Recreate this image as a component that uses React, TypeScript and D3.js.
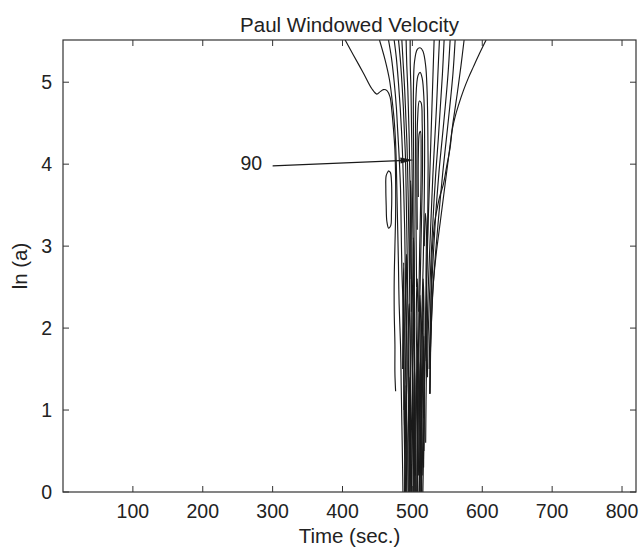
import React from "react";
import * as d3 from "d3";

// Axis tick values
const xTicks = [100, 200, 300, 400, 500, 600, 700, 800];
const yTicks = [0, 1, 2, 3, 4, 5];
const xDomain = [0, 820];
const yDomain = [0, 5.515];

// Contour lines: [time (sec.), ln(a)]
const leftLines: [number, number][][] = [
  [[403.8,5.515],[415.7,5.33],[430,5.11],[442,4.92],[449,4.855],[454,4.885],[458.6,4.91],[464,4.895],[468,4.82],[470.5,4.66],[473,4.42],[475,4.17],[476,3.8],[476,3.4],[475,3.0],[474,2.6],[474,2.2],[475,1.8],[475,1.45],[476,1.23]],
  [[452.9,5.515],[461,5.27],[467.2,5.03],[471,4.78],[473.9,4.54],[475.8,4.29],[477,4.0],[478,3.6],[479,3.2],[480,2.8],[481,2.3],[483,1.8],[484,1.3],[485,0.8],[486,0.3],[486.5,0]],
  [[465.8,5.515],[470,5.3],[474,5.0],[477,4.7],[479,4.4],[481,4.1],[483,3.7],[484,3.2],[485,2.7],[487,2.2],[488,1.6],[488,1.0],[489,0.4],[489,0]],
  [[473.9,5.515],[477,5.3],[480,5.0],[482.5,4.7],[484.5,4.4],[486,4.1],[487.5,3.7],[489,3.2],[490,2.6],[491,2.0],[491,1.4],[492,0.8],[492,0]],
  [[480.1,5.515],[482.5,5.3],[485,5.0],[487,4.7],[488.5,4.4],[490,4.1],[491,3.7],[492,3.2],[493,2.6],[494,2.0],[494,1.3],[495,0.6],[495,0]],
  [[484.9,5.515],[487,5.2],[489,4.9],[490.5,4.6],[492,4.3],[493,4.0],[494,3.6],[495,3.1],[496,2.5],[497,1.8],[497,1.0],[498,0]],
  [[491,5.515],[492,5.2],[493.5,4.9],[494.5,4.6],[495.5,4.3],[496,4.0],[497,3.6],[498,3.0],[499,2.4],[500,1.7],[500,1.0],[501,0]],
  [[496.8,5.515],[497,5.2],[498,4.9],[498.5,4.6],[499,4.3],[499.5,4.0],[500,3.6],[501,3.0],[502,2.3],[503,1.6],[503,0.8],[504,0]],
];

const loopLine: [number, number][] = [
  [465.8,3.92],[462.5,3.86],[462,3.7],[462.5,3.5],[463.5,3.3],[466,3.22],[469,3.25],[470,3.4],[470.5,3.6],[470,3.8],[468.5,3.9],[465.8,3.92],
];

const archLines: [number, number][][] = [
  [[504,0],[504,1.0],[503,2.0],[502.5,3.0],[502,3.8],[501.5,4.4],[501.5,4.9],[503,5.25],[507,5.4],[511,5.42],[515,5.38],[519,5.2],[521,4.9],[522,4.5],[522.5,4.0],[522,3.4],[521,2.8],[519,2.0],[517,1.2],[516,0.5],[515,0]],
  [[506,2.5],[505,3.5],[504.5,4.3],[505,4.8],[508,5.08],[511,5.12],[514,5.05],[516.5,4.8],[517.5,4.3],[517,3.6],[515.5,2.8],[513,2.0],[511,1.0],[510,0]],
  [[507,3.2],[506.5,4.0],[507.5,4.55],[510,4.77],[512.5,4.75],[514,4.5],[514.5,4.0],[513,3.3],[511,2.5],[508,1.5],[507,0.5],[507,0]],
  [[508.5,3.6],[508.5,4.1],[510,4.38],[511.5,4.4],[512.5,4.1],[512,3.6],[510.5,3.0],[509,2.2]],
];

const rightLines: [number, number][][] = [
  [[531.1,5.515],[529.5,5.1],[528,4.7],[526.5,4.3],[525,3.9],[523,3.4],[521,2.8],[519,2.2],[517.5,1.5],[516.5,0.8],[516,0.3]],
  [[538.7,5.515],[536.5,5.1],[534.5,4.7],[532,4.3],[529.5,3.9],[527,3.4],[524.5,2.9],[522,2.3],[520.5,1.7],[519.5,1.1],[519,0.6]],
  [[545.4,5.515],[543,5.1],[540,4.7],[537,4.3],[533.5,3.9],[530,3.4],[527,2.9],[524.5,2.4],[522.5,1.9],[521.5,1.4]],
  [[554,5.515],[551,5.1],[547,4.7],[542.5,4.3],[538,3.9],[533.5,3.4],[530,2.9],[527,2.4],[525,1.9],[524,1.5]],
  [[561.2,5.515],[558,5.1],[553.5,4.7],[548.5,4.3],[543.5,3.9],[538,3.4],[533,2.9],[529,2.4],[526.5,1.9],[525.5,1.4],[525,1.2]],
  [[574,5.515],[569.5,5.2],[564,4.85],[558,4.5],[552,4.1],[546,3.7],[540,3.3],[534,2.9],[529.5,2.5],[527,2.0],[525.5,1.6],[525,1.2]],
  [[605.5,5.515],[596,5.35],[587.4,5.19],[580,5.05],[573.1,4.9],[566,4.72],[561.2,4.58],[557,4.42],[554,4.2],[549,3.97],[544.5,3.76],[539,3.6],[535,3.44],[532,3.3],[530.2,3.15],[528.5,2.95],[527.5,2.7],[526.5,2.3],[526,1.9],[525.5,1.5],[525,1.2]],
];

// Dense inner structure near the bottom of the funnel
const bundleLines: [number, number][][] = [
  [[489,0],[489.5,0.5],[488.5,1.0],[490,1.5],[489,2.0],[490.5,2.5],[491.5,2.9],[492.5,2.5],[491.5,2.0],[492.5,1.5],[491,1.0],[492,0.5],[491,0]],
  [[494,0],[493.5,0.6],[495,1.2],[494,1.8],[495.5,2.3],[496.5,2.0],[497,1.4],[496,0.8],[497,0.3],[496.5,0]],
  [[499,0],[498.5,0.7],[500,1.3],[499,1.9],[500.5,2.6],[501.5,3.1],[502.5,2.6],[501.5,2.0],[502.5,1.4],[501.5,0.7],[502,0]],
  [[505.5,0],[505,0.8],[506.5,1.5],[505.5,2.1],[507,2.6],[508,2.2],[507.5,1.6],[508.5,1.0],[507.5,0.4],[508,0]],
  [[509,0.3],[510,1.0],[509.5,1.7],[511,2.4],[512,2.0],[511.5,1.3],[512.5,0.6],[512,0]],
  [[513,0],[513.5,0.6],[513,1.3],[514.5,2.0],[515.5,2.6],[516.5,2.2],[516,1.6],[517,1.0],[516.5,0.5]],
  [[496,2.6],[496.5,3.2],[497.5,3.8],[498.5,3.4],[498,2.8],[498.5,2.2]],
  [[517,3.0],[518.5,3.4],[520,3.2],[519.5,2.6],[520.5,2.1],[519.5,1.6],[518.5,1.9]],
  [[486,1.5],[486.5,2.2],[487.5,2.8],[488,2.2],[487.5,1.6],[488,1.0]],
  [[490,0],[490.5,0.4],[490,0.9],[491,1.3],[490.5,0.7],[491,0.2]],
  [[495.5,0],[496,0.5],[495.5,1.0],[496.5,1.4],[497.5,1.0],[497,0.5],[498,0]],
  [[502.5,0],[503,0.5],[502,1.0],[503,1.5],[504,1.1],[503.5,0.6],[504.5,0.2]],
  [[506.5,0],[507,0.6],[506,1.2],[507.5,1.8],[508.5,1.4],[508,0.8],[509,0.2]],
  [[511,0],[511.5,0.5],[510.5,1.1],[511.5,1.6],[513,1.2],[512.5,0.6],[513.5,0]],
  [[514,0.2],[515,0.8],[514.5,1.4],[515.5,1.9],[516.5,1.5],[516,0.9]],
];

// Annotation
const annotationText = "90";
const arrowFrom: [number, number] = [300, 3.98];
const arrowTo: [number, number] = [501.5, 4.05];
const labelPos: [number, number] = [285, 4.01];

export default function App() {
  const W = 641, H = 548;
  const m = { left: 63, right: 5, top: 40, bottom: 56 };
  const x = d3.scaleLinear().domain(xDomain).range([m.left, W - m.right]);
  const y = d3.scaleLinear().domain(yDomain).range([H - m.bottom, m.top]);
  const line = d3.line<[number, number]>().x(d => x(d[0])).y(d => y(d[1])).curve(d3.curveCatmullRom.alpha(0.5));
  const all = [...leftLines, loopLine, ...archLines, ...rightLines, ...bundleLines];
  const x0 = x(xDomain[0]), x1 = x(xDomain[1]), y0 = y(yDomain[0]), y1 = y(yDomain[1]);
  const font = "'Liberation Sans', Arial, Helvetica, sans-serif";
  const axisColor = "#333";
  const tl = 6;

  const ax = x(arrowTo[0]), ay = y(arrowTo[1]);
  const bx = x(arrowFrom[0]), by = y(arrowFrom[1]);
  const ang = Math.atan2(ay - by, ax - bx);
  const hl = 13, hw = 3;
  const p1 = [ax - hl * Math.cos(ang) + hw * Math.sin(ang), ay - hl * Math.sin(ang) - hw * Math.cos(ang)];
  const p2 = [ax - hl * Math.cos(ang) - hw * Math.sin(ang), ay - hl * Math.sin(ang) + hw * Math.cos(ang)];

  return (
    <svg width={W} height={H} style={{ position: "absolute", left: 0, top: 0, background: "#fff" }} fontFamily={font}>
      <defs>
        <clipPath id="plotclip">
          <rect x={x0} y={y1} width={x1 - x0} height={y0 - y1} />
        </clipPath>
      </defs>
      <rect width={W} height={H} fill="#fff" />
      <g clipPath="url(#plotclip)" fill="none" stroke="#1a1a1a" strokeWidth={1.15}>
        {all.map((l, i) => <path key={i} d={line(l) || ""} />)}
      </g>
      {/* axes box */}
      <rect x={x0} y={y1} width={x1 - x0} height={y0 - y1} fill="none" stroke={axisColor} strokeWidth={1.2} />
      {xTicks.map(t => (
        <g key={"x" + t}>
          <line x1={x(t)} x2={x(t)} y1={y0} y2={y0 - tl} stroke={axisColor} />
          <line x1={x(t)} x2={x(t)} y1={y1} y2={y1 + tl} stroke={axisColor} />
          <text x={x(t)} y={y0 + 26} textAnchor="middle" fontSize={19.5} fill="#222">{t}</text>
        </g>
      ))}
      {yTicks.map(t => (
        <g key={"y" + t}>
          <line x1={x0} x2={x0 + tl} y1={y(t)} y2={y(t)} stroke={axisColor} />
          <line x1={x1} x2={x1 - tl} y1={y(t)} y2={y(t)} stroke={axisColor} />
          <text x={x0 - 11} y={y(t) + 7} textAnchor="end" fontSize={19.5} fill="#222">{t}</text>
        </g>
      ))}
      <text x={(x0 + x1) / 2} y={32} textAnchor="middle" fontSize={20.5} fill="#222">Paul Windowed Velocity</text>
      <text x={(x0 + x1) / 2} y={543} textAnchor="middle" fontSize={20.5} fill="#222">Time (sec.)</text>
      <text transform={`translate(27,${(y0 + y1) / 2}) rotate(-90)`} textAnchor="middle" fontSize={20.5} fill="#222">ln (a)</text>
      {/* annotation */}
      <line x1={bx} y1={by} x2={ax - 8 * Math.cos(ang)} y2={ay - 8 * Math.sin(ang)} stroke="#1a1a1a" strokeWidth={1.3} />
      <polygon points={`${ax},${ay} ${p1[0]},${p1[1]} ${p2[0]},${p2[1]}`} fill="#1a1a1a" />
      <text x={x(labelPos[0])} y={y(labelPos[1]) + 7} textAnchor="end" fontSize={19.5} fill="#222">{annotationText}</text>
    </svg>
  );
}
